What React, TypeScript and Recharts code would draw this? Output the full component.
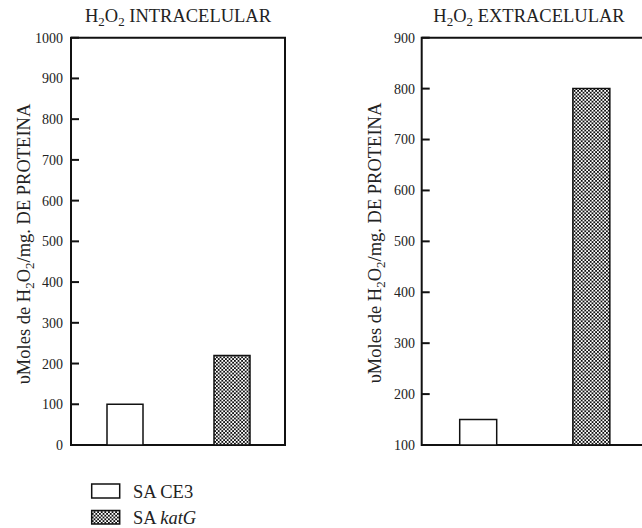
import React from 'react';
import { BarChart, Bar, XAxis, YAxis, Cell, ReferenceArea } from 'recharts';

const categories = ['SA CE3', 'SA katG'];
const intraValues = [100, 220];
const extraValues = [150, 800];
const intraTicks = [0, 100, 200, 300, 400, 500, 600, 700, 800, 900, 1000];
const extraTicks = [100, 200, 300, 400, 500, 600, 700, 800, 900];
const intraTitle = ' INTRACELULAR';
const extraTitle = ' EXTRACELULAR';
const legendNames = ['SA CE3', 'SA '];
const legendItalic = ['', 'katG'];

const FONT = '"Liberation Serif", "Times New Roman", serif';
const TXT = '#222';
const LINE = '#111';
const fills = ['#ffffff', 'url(#hatch)'];

const intraData = categories.map((name, i) => ({ name, value: intraValues[i] }));
const extraData = categories.map((name, i) => ({ name, value: extraValues[i] }));

function LeftTick(props: any) {
  const { x, y, payload } = props;
  return (
    <text x={x} y={y} dy="0.355em" textAnchor="end" fontFamily={FONT} fontSize={14} fill={TXT}>
      {payload.value}
    </text>
  );
}

function H2O2({ rest }: { rest: string }) {
  return (
    <>
      <tspan>H</tspan>
      <tspan fontSize="0.7em" dy={4}>2</tspan>
      <tspan dy={-4}>O</tspan>
      <tspan fontSize="0.7em" dy={4}>2</tspan>
      <tspan dy={-4}>{rest}</tspan>
    </>
  );
}

function YLabel({ x, y }: { x: number; y: number }) {
  return (
    <text
      transform={`translate(${x},${y}) rotate(-90)`}
      x={0}
      y={0}
      textAnchor="middle"
      fontFamily={FONT}
      fontSize={18.5}
      fill={TXT}
    >
      <tspan>υMoles de H</tspan>
      <tspan fontSize="0.7em" dy={4}>2</tspan>
      <tspan dy={-4}>O</tspan>
      <tspan fontSize="0.7em" dy={4}>2</tspan>
      <tspan dy={-4}>/mg. DE PROTEINA</tspan>
    </text>
  );
}

function Panel({
  data,
  ticks,
  domain,
  width,
  yAxisWidth,
  marginRight,
  tickMargin,
  barSize,
}: {
  data: { name: string; value: number }[];
  ticks: number[];
  domain: [number, number];
  width: number;
  yAxisWidth: number;
  marginRight: number;
  tickMargin: number;
  barSize: number;
}) {
  return (
    <BarChart
      width={width}
      height={528}
      data={data}
      margin={{ top: 37.7, right: marginRight, bottom: 83, left: 0 }}
    >
      <XAxis dataKey="name" tick={false} tickLine={false} axisLine={false} height={0} />
      <YAxis
        type="number"
        domain={domain}
        ticks={ticks}
        interval={0}
        allowDataOverflow
        width={yAxisWidth}
        tickSize={-8}
        tickMargin={tickMargin}
        tick={<LeftTick />}
        stroke={LINE}
        strokeWidth={2}
        tickLine={{ stroke: LINE, strokeWidth: 2 }}
        axisLine={false}
      />
      <YAxis
        yAxisId="right"
        orientation="right"
        type="number"
        domain={domain}
        ticks={ticks}
        interval={0}
        allowDataOverflow
        width={0}
        tickSize={-8}
        tick={() => <g />}
        stroke={LINE}
        strokeWidth={2}
        tickLine={{ stroke: LINE, strokeWidth: 2 }}
        axisLine={false}
      />
      <Bar dataKey="value" barSize={barSize} stroke={LINE} strokeWidth={1.5} isAnimationActive={false}>
        {data.map((d, i) => (
          <Cell key={d.name} fill={fills[i]} />
        ))}
      </Bar>
      <ReferenceArea
        y1={domain[0]}
        y2={domain[1]}
        fill="none"
        fillOpacity={0}
        stroke={LINE}
        strokeWidth={2}
        ifOverflow="visible"
      />
    </BarChart>
  );
}

export default function App() {
  return (
    <div
      style={{
        position: 'absolute',
        left: 0,
        top: 0,
        width: 642,
        height: 528,
        overflow: 'hidden',
        background: '#fff',
      }}
    >
      <svg width={0} height={0} style={{ position: 'absolute' }}>
        <defs>
          <pattern id="hatch" width={3.6} height={3.6} patternUnits="userSpaceOnUse">
            <rect x={0} y={0} width={3.6} height={3.6} fill="#fff" />
            <rect x={0} y={0} width={1.8} height={1.8} fill="#111" />
            <rect x={1.8} y={1.8} width={1.8} height={1.8} fill="#111" />
          </pattern>
        </defs>
      </svg>
      <div style={{ position: 'absolute', left: 0, top: 0 }}>
        <Panel
          data={intraData}
          ticks={intraTicks}
          domain={[0, 1000]}
          width={300}
          yAxisWidth={71}
          marginRight={15}
          tickMargin={16}
          barSize={36}
        />
      </div>
      <div style={{ position: 'absolute', left: 300, top: 0 }}>
        <Panel
          data={extraData}
          ticks={extraTicks}
          domain={[100, 900]}
          width={360}
          yAxisWidth={121.7}
          marginRight={12}
          tickMargin={14.7}
          barSize={37}
        />
      </div>
      <svg
        width={642}
        height={528}
        style={{ position: 'absolute', left: 0, top: 0, pointerEvents: 'none' }}
      >
        <text x={178} y={22} textAnchor="middle" fontFamily={FONT} fontSize={18.5} fill={TXT}>
          <H2O2 rest={intraTitle} />
        </text>
        <text x={529} y={22} textAnchor="middle" fontFamily={FONT} fontSize={18.5} fill={TXT}>
          <H2O2 rest={extraTitle} />
        </text>
        <YLabel x={30} y={244} />
        <YLabel x={381} y={243} />
        <rect x={91.7} y={484} width={28} height={14} fill={fills[0]} stroke={LINE} strokeWidth={1.5} />
        <text x={133} y={498} fontFamily={FONT} fontSize={18.5} fill={TXT}>
          {legendNames[0]}
          <tspan fontStyle="italic">{legendItalic[0]}</tspan>
        </text>
        <rect x={91.7} y={510.5} width={28} height={13.5} fill={fills[1]} stroke={LINE} strokeWidth={1.5} />
        <text x={133} y={523.5} fontFamily={FONT} fontSize={18.5} fill={TXT}>
          {legendNames[1]}
          <tspan fontStyle="italic">{legendItalic[1]}</tspan>
        </text>
      </svg>
    </div>
  );
}
